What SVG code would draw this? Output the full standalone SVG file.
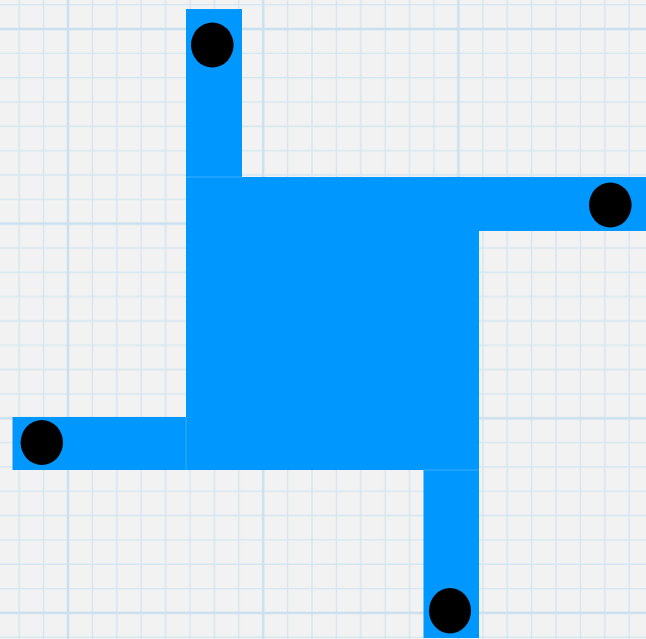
<svg xmlns="http://www.w3.org/2000/svg" width="646" height="639" viewBox="0 0 646 639">
  <defs>
    <pattern id="grid" x="68" y="29" width="195.2" height="194.64" patternUnits="userSpaceOnUse">
      <rect width="195.2" height="194.64" fill="#f2f2f2"/>
      <g stroke="#d4e6f1" stroke-width="1.4">
        <line x1="24.4" y1="0" x2="24.4" y2="194.64"/>
        <line x1="48.8" y1="0" x2="48.8" y2="194.64"/>
        <line x1="73.2" y1="0" x2="73.2" y2="194.64"/>
        <line x1="97.6" y1="0" x2="97.6" y2="194.64"/>
        <line x1="122" y1="0" x2="122" y2="194.64"/>
        <line x1="146.4" y1="0" x2="146.4" y2="194.64"/>
        <line x1="170.8" y1="0" x2="170.8" y2="194.64"/>
        <line y1="24.33" x1="0" y2="24.33" x2="195.2"/>
        <line y1="48.66" x1="0" y2="48.66" x2="195.2"/>
        <line y1="72.99" x1="0" y2="72.99" x2="195.2"/>
        <line y1="97.32" x1="0" y2="97.32" x2="195.2"/>
        <line y1="121.65" x1="0" y2="121.65" x2="195.2"/>
        <line y1="145.98" x1="0" y2="145.98" x2="195.2"/>
        <line y1="170.31" x1="0" y2="170.31" x2="195.2"/>
      </g>
      <g stroke="#cbe0ee" stroke-width="2.4">
        <line x1="0" y1="0" x2="0" y2="194.64"/>
        <line x1="195.2" y1="0" x2="195.2" y2="194.64"/>
        <line x1="0" y1="0" x2="195.2" y2="0"/>
        <line x1="0" y1="194.64" x2="195.2" y2="194.64"/>
      </g>
    </pattern>
  </defs>
  <style>
    .bar { fill: #0097ff; }
    .seam { stroke: #3aaeff; stroke-width: 1; }
    .dot { fill: #000000; }
  </style>
  <rect x="0" y="0" width="646" height="639" fill="url(#grid)"/>
  <g id="center">
    <rect class="bar" x="186" y="177" width="293" height="293"/>
  </g>
  <g id="arm-top">
    <rect class="bar" x="186" y="9" width="56" height="168"/>
    <line class="seam" x1="186" y1="177" x2="242" y2="177"/>
    <ellipse class="dot" cx="212.3" cy="45" rx="21.3" ry="22.5"/>
  </g>
  <g id="arm-right">
    <rect class="bar" x="479" y="177" width="167" height="54"/>
    <ellipse class="dot" cx="610.3" cy="205" rx="21.3" ry="22.5"/>
  </g>
  <g id="arm-left">
    <rect class="bar" x="12.5" y="417" width="173.5" height="53"/>
    <line class="seam" x1="186" y1="417" x2="186" y2="470"/>
    <ellipse class="dot" cx="41.8" cy="442.5" rx="21.2" ry="22.5"/>
  </g>
  <g id="arm-bottom">
    <rect class="bar" x="423.5" y="470" width="55.5" height="168"/>
    <line class="seam" x1="423.5" y1="470" x2="479" y2="470"/>
    <ellipse class="dot" cx="450" cy="610.7" rx="21" ry="22.7"/>
  </g>
</svg>
